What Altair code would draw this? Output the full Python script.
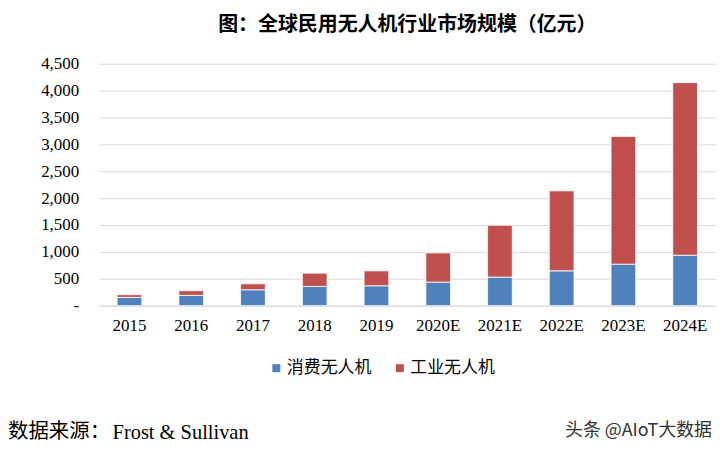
import altair as alt
import pandas as pd

years = ["2015", "2016", "2017", "2018", "2019", "2020E", "2021E", "2022E", "2023E", "2024E"]
consumer = [154, 191, 296, 358, 370, 438, 531, 648, 772, 938]
industrial = [50, 87, 111, 247, 278, 543, 964, 1487, 2376, 3210]
series = ["消费无人机", "工业无人机"]
colors = ["#4F81BD", "#C0504D"]
y_ticks = [0, 500, 1000, 1500, 2000, 2500, 3000, 3500, 4000, 4500]

rows = []
for i, y in enumerate(years):
    rows.append({"year": y, "series": series[0], "value": consumer[i], "idx": 0})
    rows.append({"year": y, "series": series[1], "value": industrial[i], "idx": 1})
df = pd.DataFrame(rows)

bars = alt.Chart(df).mark_bar(stroke="white", strokeWidth=0.8).encode(
    x=alt.X("year:N", sort=years, title=None,
            scale=alt.Scale(paddingInner=0.6, paddingOuter=0.3),
            axis=alt.Axis(labelAngle=0, labelFont="Liberation Serif", labelFontSize=17,
                          labelColor="#000000", labelPadding=12, ticks=False,
                          domain=True, domainColor="#D9D9D9", domainWidth=1)),
    y=alt.Y("value:Q", stack="zero", title=None,
            scale=alt.Scale(domain=[0, 4500], nice=False),
            axis=alt.Axis(values=y_ticks, labelFont="Liberation Serif", labelFontSize=17,
                          labelColor="#000000", labelPadding=20, ticks=False, domain=False,
                          grid=True, gridColor="#D9D9D9", gridWidth=1,
                          labelExpr="datum.value == 0 ? '-' : format(datum.value, ',')")),
    color=alt.Color("series:N", scale=alt.Scale(domain=series, range=colors),
                    legend=alt.Legend(title=None, orient="none", direction="horizontal",
                                      legendX=170, legendY=297, symbolType="square",
                                      symbolSize=64, symbolStrokeWidth=0,
                                      labelFont="Noto Sans CJK SC", labelFontSize=17,
                                      labelColor="#000000", columnPadding=20, labelOffset=2)),
    order=alt.Order("idx:Q", sort="ascending"),
)

source_cn = alt.Chart(pd.DataFrame({"t": ["数据来源："]})).mark_text(
    align="left", baseline="middle", font="Noto Sans CJK SC",
    fontSize=20.5, color="#000000"
).encode(text="t:N", x=alt.value(-91), y=alt.value(370))

source_en = alt.Chart(pd.DataFrame({"t": ["Frost & Sullivan"]})).mark_text(
    align="left", baseline="middle", font="Liberation Serif",
    fontSize=20.5, color="#000000"
).encode(text="t:N", x=alt.value(14), y=alt.value(371))

mark = alt.Chart(pd.DataFrame({"t": ["头条 @AIoT大数据"]})).mark_text(
    align="right", baseline="middle", font="Noto Sans CJK SC",
    fontSize=18, color="#333333"
).encode(text="t:N", x=alt.value(616), y=alt.value(369))

chart = alt.layer(bars, source_cn, source_en, mark).properties(
    width=620, height=243,
    autosize=alt.AutoSizeParams(type="none"),
    padding={"left": 91, "top": 55, "right": 0, "bottom": 144},
    title=alt.TitleParams("图：全球民用无人机行业市场规模（亿元）", font="Noto Sans CJK SC",
                          fontSize=20, fontWeight="bold", color="#000000",
                          anchor="middle", offset=20),
).configure_view(stroke=None)

chart.save("out.html", embed_options={"renderer": "svg", "actions": False})
